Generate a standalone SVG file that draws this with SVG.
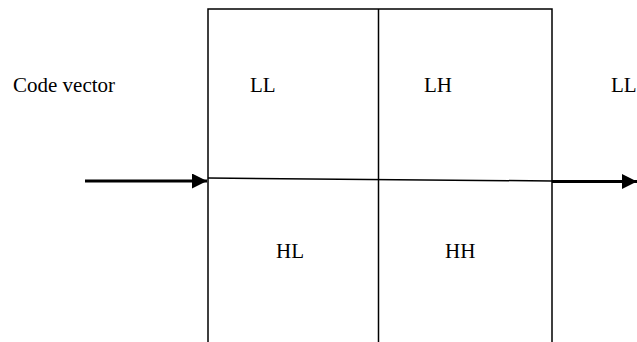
<svg xmlns="http://www.w3.org/2000/svg" width="637" height="342" viewBox="0 0 637 342">
<defs>
<style>
.ln{stroke:#000;stroke-width:1.5;fill:none}
.ar{stroke:#000;stroke-width:3;fill:none}
.t{font-family:"Liberation Serif","Times New Roman","DejaVu Serif",serif;font-size:21px;fill:#000}
</style>
<marker id="ah" markerWidth="5" markerHeight="5" refX="5" refY="2.5" orient="auto" markerUnits="strokeWidth">
<path d="M0,0 L5,2.5 L0,5 Z" fill="#000"/>
</marker>
</defs>
<g id="grid">
<path class="ln" d="M208,342 V9 H552 V342"/>
<line class="ln" x1="378.5" y1="9" x2="378.5" y2="342"/>
<line class="ln" x1="208" y1="178" x2="552" y2="181"/>
</g>
<g id="labels">
<text class="t" x="13" y="92">Code vector</text>
<text class="t" x="250" y="92">LL</text>
<text class="t" x="424" y="92">LH</text>
<text class="t" x="611" y="92">LL</text>
<text class="t" x="276" y="258">HL</text>
<text class="t" x="445" y="258">HH</text>
</g>
<g id="connectors">
<line class="ar" x1="85" y1="181" x2="207" y2="181" marker-end="url(#ah)"/>
<line class="ar" x1="552" y1="181.5" x2="637" y2="181.5" marker-end="url(#ah)"/>
</g>
</svg>
